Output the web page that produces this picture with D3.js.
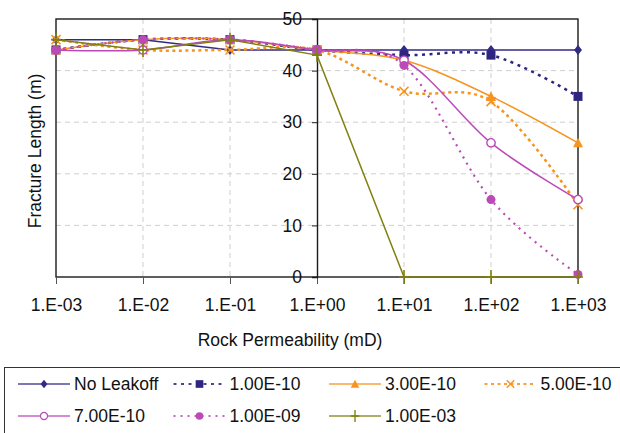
<!DOCTYPE html>
<html><head><meta charset="utf-8">
<script src="https://cdn.jsdelivr.net/npm/d3@7"></script>
<style>body{margin:0;background:#fff}svg{display:block;font-family:"Liberation Sans",Arial,sans-serif}</style>
</head><body><svg id="c" width="620" height="433"></svg>
<script>
// ---- data ----
const permeability = [1e-3, 1e-2, 1e-1, 1, 10, 100, 1000];
const xTickLabels = ["1.E-03","1.E-02","1.E-01","1.E+00","1.E+01","1.E+02","1.E+03"];
const yTicks = [0, 10, 20, 30, 40, 50];
const seriesNames = ["No Leakoff","1.00E-10","3.00E-10","5.00E-10","7.00E-10","1.00E-09","1.00E-03"];
const noLeakoff = [46, 46, 44, 44, 44, 44, 44];
const leak1e10  = [44, 46, 46, 44, 43, 43, 35];
const leak3e10  = [44, 46, 46, 44, 42, 35, 26];
const leak5e10  = [46, 44, 44, 44, 36, 34, 14];
const leak7e10  = [44, 44, 46, 44, 42, 26, 15];
const leak1e09  = [44, 46, 46, 44, 41, 15, 0.5];
const leak1e03  = [46, 44, 46, 43, 0, 0, 0];
const seriesValues = [noLeakoff, leak1e10, leak3e10, leak5e10, leak7e10, leak1e09, leak1e03];

// ---- styles ----
const styles = [
  {color:"#332a86", dash:null,  width:1.5, marker:"diamond", smooth:false},
  {color:"#2e2580", dash:"3,4.5", width:2.5, marker:"square", smooth:true},
  {color:"#f7941e", dash:null,  width:1.5, marker:"triangle", smooth:true},
  {color:"#f7941e", dash:"3,3.5", width:2.5, marker:"x", smooth:true},
  {color:"#bb4ab8", dash:null,  width:1.5, marker:"circleOpen", smooth:true},
  {color:"#bb4ab8", dash:"2,5", width:2.2, marker:"circle", smooth:true},
  {color:"#808010", dash:null,  width:1.5, marker:"plus", smooth:false}
];

const svg = d3.select("#c");
const L = 56, R = 578, T = 19, B = 277;
const x = d3.scaleLog().domain([1e-3, 1e3]).range([L, R]);
const y = d3.scaleLinear().domain([0, 50]).range([B, T]);
const FS = "17.5px";

// grid
const g = svg.append("g");
g.selectAll("line.v").data(permeability.filter(v => v !== 1e-3 && v !== 1 && v !== 1e3))
  .join("line").attr("x1", d => x(d)).attr("x2", d => x(d)).attr("y1", T).attr("y2", B)
  .attr("stroke", "#cfcfcf").attr("stroke-width", 1).attr("stroke-dasharray", "5,4");
g.selectAll("line.h").data(yTicks.filter(v => v > 0 && v < 50))
  .join("line").attr("x1", L).attr("x2", R).attr("y1", d => y(d)).attr("y2", d => y(d))
  .attr("stroke", "#cfcfcf").attr("stroke-width", 1).attr("stroke-dasharray", "5,4");

// frame
svg.append("rect").attr("x", L).attr("y", T).attr("width", R - L).attr("height", B - T)
  .attr("fill", "none").attr("stroke", "#1a1a1a").attr("stroke-width", 1.4);

// x axis
const xAxis = d3.axisBottom(x).tickValues(permeability)
  .tickFormat((d, i) => xTickLabels[i]).tickSize(7).tickPadding(15);
const xg = svg.append("g").attr("transform", `translate(0,${B})`).call(xAxis);
xg.select(".domain").remove();
xg.selectAll("line").attr("stroke", "#555").attr("stroke-width", 1);
xg.selectAll("text").attr("font-size", FS).attr("font-family", "Liberation Sans, Arial").attr("fill", "#111");

// y axis at x = 1
const yAxis = d3.axisLeft(y).tickValues(yTicks).tickSize(5).tickPadding(10);
const yg = svg.append("g").attr("transform", `translate(${x(1)},0)`).call(yAxis);
yg.select(".domain").attr("stroke", "#1a1a1a").attr("stroke-width", 1.4);
yg.selectAll("line").attr("stroke", "#1a1a1a");
yg.selectAll("text").attr("font-size", FS).attr("font-family", "Liberation Sans, Arial").attr("fill", "#111");

// axis titles
svg.append("text").attr("x", 290).attr("y", 346).attr("text-anchor", "middle")
  .attr("font-size", FS).attr("fill", "#111").text("Rock Permeability (mD)");
svg.append("text").attr("transform", "translate(41,151) rotate(-90)").attr("text-anchor", "middle")
  .attr("font-size", FS).attr("fill", "#111").text("Fracture Length (m)");

// markers
function drawMarker(sel, type, color, cx, cy, s = 1) {
  const gg = sel.append("g").attr("transform", `translate(${cx},${cy}) scale(${s})`);
  if (type === "diamond") gg.append("path").attr("d", "M0,-5L4,0L0,5L-4,0Z").attr("fill", color);
  else if (type === "square") gg.append("rect").attr("x", -4.5).attr("y", -4.5).attr("width", 9).attr("height", 9).attr("fill", color);
  else if (type === "triangle") gg.append("path").attr("d", "M0,-5L5,4.5L-5,4.5Z").attr("fill", color);
  else if (type === "circle") gg.append("circle").attr("r", 4.5).attr("fill", color);
  else if (type === "circleOpen") gg.append("circle").attr("r", 4.2).attr("fill", "#fff").attr("stroke", color).attr("stroke-width", 1.4);
  else if (type === "x") gg.append("path").attr("d", "M-4.5,-4.5L4.5,4.5M-4.5,4.5L4.5,-4.5").attr("stroke", color).attr("stroke-width", 1.6);
  else if (type === "plus") gg.append("path").attr("d", "M0,-7L0,7M-5,0L5,0").attr("stroke", color).attr("stroke-width", 1.6);
}

// series
const plot = svg.append("g");
seriesValues.forEach((vals, si) => {
  const st = styles[si];
  const pts = vals.map((v, i) => [permeability[i], v]);
  const line = d3.line().x(d => x(d[0])).y(d => y(d[1]))
    .curve(st.smooth ? d3.curveCardinal.tension(0) : d3.curveLinear);
  plot.append("path").attr("d", line(pts)).attr("fill", "none")
    .attr("stroke", st.color).attr("stroke-width", st.width)
    .attr("stroke-dasharray", st.dash);
  pts.forEach(p => drawMarker(plot, st.marker, st.color, x(p[0]), y(p[1])));
});

// legend
svg.append("rect").attr("x", 4.5).attr("y", 367.5).attr("width", 640).attr("height", 100)
  .attr("fill", "#fff").attr("stroke", "#333").attr("stroke-width", 1);
const lg = svg.append("g");
seriesNames.forEach((name, i) => {
  const col = i < 4 ? i : i - 4, row = i < 4 ? 0 : 1;
  const x0 = 18 + col * 155.5, yy = row === 0 ? 384 : 416;
  const st = styles[i];
  lg.append("line").attr("x1", x0).attr("x2", x0 + 52).attr("y1", yy).attr("y2", yy)
    .attr("stroke", st.color).attr("stroke-width", st.dash ? 2 : 1.5).attr("stroke-dasharray", st.dash)
    .attr("opacity", 0.85);
  drawMarker(lg, st.marker, st.color, x0 + 26, yy, 0.85);
  lg.append("text").attr("x", x0 + 56).attr("y", yy + 5.5).attr("font-size", FS).attr("fill", "#111").text(name);
});
</script></body></html>
